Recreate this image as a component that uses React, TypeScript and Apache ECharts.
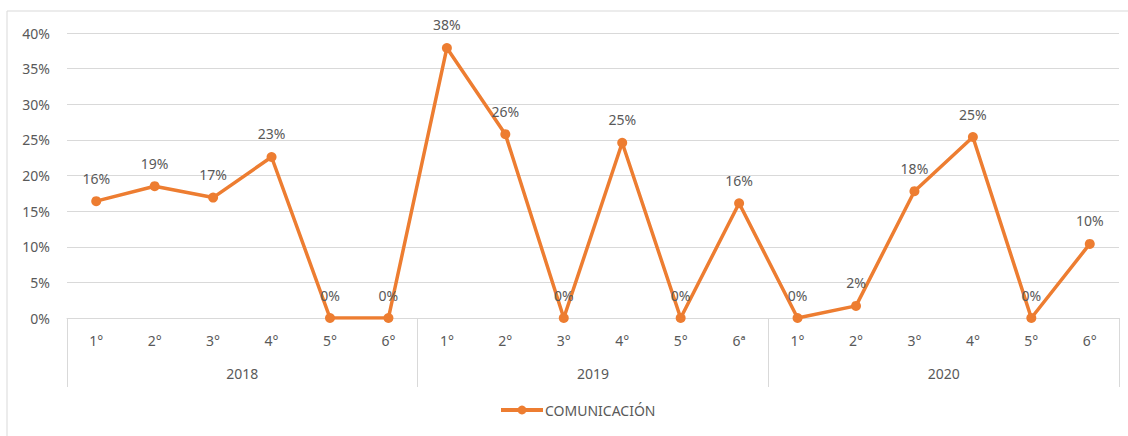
import React, { useEffect, useRef } from "react";
import * as echarts from "echarts";

const categories = [
  "1°", "2°", "3°", "4°", "5°", "6°",
  "1°", "2°", "3°", "4°", "5°", "6ª",
  "1°", "2°", "3°", "4°", "5°", "6°",
];
const years = ["2018", "2019", "2020"];
const comunicacion = [
  16.4, 18.5, 16.9, 22.6, 0, 0,
  37.9, 25.8, 0, 24.6, 0, 16.1,
  0, 1.7, 17.8, 25.4, 0, 10.4,
];
const yTicks = { min: 0, max: 40, interval: 5 };
const seriesName = "COMUNICACIÓN";

const FONT = "'Noto Sans', sans-serif";
const TEXT = "#595959";
const GRID = "#d9d9d9";
const ORANGE = "#ED7D31";
const FS = 14;

export default function App() {
  const ref = useRef<HTMLDivElement>(null);
  useEffect(() => {
    const chart = echarts.init(ref.current!, null, { renderer: "svg" });
    chart.setOption({
      animation: false,
      textStyle: { fontFamily: FONT },
      graphic: [
        {
          type: "rect",
          shape: { x: 7, y: 11, width: 1140, height: 450 },
          style: { fill: "none", stroke: GRID, lineWidth: 1 },
          silent: true,
        },
      ],
      grid: { left: 67, right: 9, top: 33, bottom: 118 },
      legend: {
        data: [seriesName],
        top: 398,
        left: 494,
        itemWidth: 42,
        itemHeight: 11,
        itemGap: 10,
        lineStyle: { width: 4 },
        textStyle: { color: TEXT, fontSize: FS, fontFamily: FONT, padding: [0, 0, 0, -3] },
      },
      xAxis: [
        {
          type: "category",
          data: categories,
          boundaryGap: true,
          axisLine: { show: true, lineStyle: { color: GRID, width: 1 } },
          axisTick: { show: false },
          axisLabel: { color: TEXT, fontSize: FS, margin: 15, interval: 0, fontFamily: FONT },
        },
        {
          type: "category",
          data: years,
          position: "bottom",
          boundaryGap: true,
          axisLine: { show: false },
          axisTick: { show: true, length: 69, lineStyle: { color: GRID, width: 1 }, interval: 0 },
          axisLabel: { color: TEXT, fontSize: FS, margin: 48, interval: 0, fontFamily: FONT },
        },
      ],
      yAxis: {
        type: "value",
        min: yTicks.min,
        max: yTicks.max,
        interval: yTicks.interval,
        axisLine: { show: false },
        axisTick: { show: false },
        splitLine: { lineStyle: { color: GRID, width: 1 } },
        axisLabel: { color: TEXT, fontSize: FS, margin: 17, formatter: "{value}%", fontFamily: FONT },
      },
      series: [
        {
          name: seriesName,
          type: "line",
          data: comunicacion,
          xAxisIndex: 0,
          symbol: "circle",
          symbolSize: 10,
          lineStyle: { color: ORANGE, width: 3.5 },
          itemStyle: { color: ORANGE },
          label: {
            show: true,
            position: "top",
            distance: 11,
            color: TEXT,
            fontSize: FS,
            fontFamily: FONT,
            formatter: (p: any) => Math.round(p.value) + "%",
          },
        },
      ],
    });
    return () => chart.dispose();
  }, []);
  return (
    <div
      ref={ref}
      style={{ position: "absolute", left: 0, top: 0, width: 1128, height: 436, background: "#fff" }}
    />
  );
}
